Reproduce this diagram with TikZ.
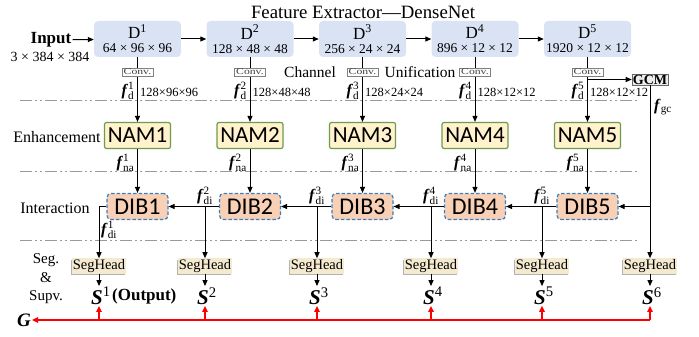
\documentclass[tikz,border=0pt]{standalone}
\usepackage{fontspec}
\usepackage{amsmath}
\setmainfont{Liberation Serif}
\newfontfamily\calib{Carlito}
\usetikzlibrary{arrows.meta,shadows,calc}
\definecolor{dblue}{HTML}{DAE3F3}
\definecolor{namfill}{HTML}{FFF2CC}
\definecolor{namgreen}{HTML}{6F9B4D}
\definecolor{dibfill}{HTML}{F8D0B6}
\definecolor{dibblue}{HTML}{3C7DC0}
\definecolor{segfill}{HTML}{F4EAD0}
\definecolor{gcmfill}{HTML}{EDEDED}
\definecolor{ddgray}{HTML}{9A9A9A}
\newcommand{\fs}[1]{\fontsize{#1}{#1}\selectfont}
\newcommand{\fv}[2]{\textbf{\textit{f}}$^{\textnormal{#1}}_{\textnormal{#2}}$}
\newcommand{\sv}[1]{\textbf{\textit{S}}$^{\textnormal{#1}}$}
\newcommand{\convtxt}{\scalebox{1.3}[1]{\fs{9}Conv.}}
\begin{document}
\begin{tikzpicture}[x=1pt,y=-1pt,
  arr/.style={line width=1pt,-{Triangle[length=6pt,width=5pt]}},
  redarr/.style={line width=1.3pt,red,-{Triangle[length=6pt,width=5.5pt]}},
  dbox/.style={fill=dblue,rounded corners=4pt,minimum width=87pt,minimum height=36pt,align=center,inner sep=1pt},
  conv/.style={draw=gray,fill=white,minimum width=31pt,minimum height=8pt,inner sep=0pt,text=black!75},
  nam/.style={draw=namgreen,line width=1.2pt,fill=namfill,rounded corners=2pt,minimum width=66pt,minimum height=26pt,inner sep=1pt,font=\calib\fs{23}},
  dib/.style={draw=dibblue,dashed,dash pattern=on 3.5pt off 2pt,line width=1.2pt,fill=dibfill,rounded corners=4pt,minimum width=61pt,minimum height=26pt,inner sep=1pt,font=\calib\fs{24}},
  seg/.style={fill=segfill,drop shadow={shadow xshift=-1pt,shadow yshift=-1.5pt,fill=black,opacity=0.3},inner sep=1pt,minimum height=14pt,minimum width=54pt,font=\fs{14.5}},
  gcm/.style={draw=black!60,fill=gcmfill,inner sep=1pt,minimum width=36pt,minimum height=11pt,font=\fs{14}\bfseries},
  lab/.style={inner sep=0pt,font=\fs{16}},
  dim/.style={inner sep=0pt,font=\fs{12.5}},
  slab/.style={inner sep=1pt,font=\fs{21}},
  dd/.style={ddgray,line width=1pt,dash pattern=on 12pt off 3pt on 2pt off 3pt on 2pt off 3pt},
  sec/.style={font=\fs{16}}]
\useasboundingbox (0,0) rectangle (699,337);

% title and input
\node[font=\fs{18.8}] (title) at (363,12) {Feature Extractor—DenseNet};
\node[font=\fs{17}\bfseries,inner sep=1pt] (in) at (51,40) {Input};
\node[font=\fs{14},inner sep=0pt] (insz) at (50,57) {3 × 384 × 384};

% dense net blocks
\node[dbox] (D1) at (137.5,39) {{\fs{17}D\textsuperscript{1}}\\[2pt]{\fs{13.5}64 × 96 × 96}};
\node[dbox] (D2) at (250,39) {{\fs{17}D\textsuperscript{2}}\\[2pt]{\fs{13.5}128 × 48 × 48}};
\node[dbox] (D3) at (362.5,39) {{\fs{17}D\textsuperscript{3}}\\[2pt]{\fs{13.5}256 × 24 × 24}};
\node[dbox] (D4) at (475,39) {{\fs{17}D\textsuperscript{4}}\\[2pt]{\fs{13.5}896 × 12 × 12}};
\node[dbox] (D5) at (587.5,39) {{\fs{17}D\textsuperscript{5}}\\[2pt]{\fs{13.5}1920 × 12 × 12}};
\draw[arr] (in) -- (D1);
\draw[arr] (D1) -- (D2);
\draw[arr] (D2) -- (D3);
\draw[arr] (D3) -- (D4);
\draw[arr] (D4) -- (D5);

% separators
\draw[dd] (20,100) -- (637,100);
\draw[dd] (20,171) -- (637,171);
\draw[dd] (20,240) -- (637,240);

% section labels
\node[sec] (secE) at (57,137) {Enhancement};
\node[sec] (secI) at (55,208) {Interaction};
\node[font=\fontsize{15}{18.5}\selectfont,align=center] (secS) at (46,279) {Seg.\\\&\\Supv.};

% NAM
\node[nam] (N1) at (137.5,135.5) {NAM1};
\node[nam] (N2) at (250,135.5) {NAM2};
\node[nam] (N3) at (362.5,135.5) {NAM3};
\node[nam] (N4) at (475,135.5) {NAM4};
\node[nam] (N5) at (587.5,135.5) {NAM5};
\draw[arr] (D1) -- (N1);
\draw[arr] (D2) -- (N2);
\draw[arr] (D3) -- (N3);
\draw[arr] (D4) -- (N4);
\draw[arr] (D5) -- (N5);

% conv
\node[conv] (C1) at (137.5,72) {\convtxt};
\node[conv] (C2) at (250,72) {\convtxt};
\node[conv] (C3) at (362.5,72) {\convtxt};
\node[conv] (C4) at (475,72) {\convtxt};
\node[conv] (C5) at (587.5,72) {\convtxt};
\node[font=\fs{15.5}] (chn) at (310,72) {Channel};
\node[font=\fs{15.5}] (uni) at (420,72) {Unification};

% GCM
\node[gcm] (GCM) at (650,79.5) {GCM};
\coordinate (g5) at (587.5,79.5);
\draw[arr] (g5) -- (GCM);

% f_d labels
\node[lab,anchor=east] (fd1) at (134.5,91) {\fv{1}{d}};
\node[lab,anchor=east] (fd2) at (247,91) {\fv{2}{d}};
\node[lab,anchor=east] (fd3) at (359.5,91) {\fv{3}{d}};
\node[lab,anchor=east] (fd4) at (472,91) {\fv{4}{d}};
\node[lab,anchor=east] (fd5) at (584.5,91) {\fv{5}{d}};
\node[dim,anchor=west] (dd1) at (140,92) {128×96×96};
\node[dim,anchor=west] (dd2) at (252.5,92) {128×48×48};
\node[dim,anchor=west] (dd3) at (365,92) {128×24×24};
\node[dim,anchor=west] (dd4) at (477.5,92) {128×12×12};
\node[dim,anchor=west] (dd5) at (590,92) {128×12×12};

% f_na labels
\node[lab,anchor=east] (fn1) at (134.5,163) {\fv{1}{na}};
\node[lab,anchor=east] (fn2) at (247,163) {\fv{2}{na}};
\node[lab,anchor=east] (fn3) at (359.5,163) {\fv{3}{na}};
\node[lab,anchor=east] (fn4) at (472,163) {\fv{4}{na}};
\node[lab,anchor=east] (fn5) at (584.5,163) {\fv{5}{na}};

% DIB
\node[dib] (B1) at (137.5,206.5) {DIB1};
\node[dib] (B2) at (250,206.5) {DIB2};
\node[dib] (B3) at (362.5,206.5) {DIB3};
\node[dib] (B4) at (475,206.5) {DIB4};
\node[dib] (B5) at (587.5,206.5) {DIB5};
\draw[arr] (N1) -- (B1);
\draw[arr] (N2) -- (B2);
\draw[arr] (N3) -- (B3);
\draw[arr] (N4) -- (B4);
\draw[arr] (N5) -- (B5);
\draw[arr] (B2) -- (B1);
\draw[arr] (B3) -- (B2);
\draw[arr] (B4) -- (B3);
\draw[arr] (B5) -- (B4);

% seg heads
\node[seg] (H1) at (99,266) {SegHead};
\node[seg] (H2) at (205,266) {SegHead};
\node[seg] (H3) at (317,266) {SegHead};
\node[seg] (H4) at (431,266) {SegHead};
\node[seg] (H5) at (542,266) {SegHead};
\node[seg] (H6) at (650,266) {SegHead};

\coordinate (j2) at (205,206.5);
\coordinate (j3) at (317,206.5);
\coordinate (j4) at (431,206.5);
\coordinate (j5) at (542,206.5);
\draw[arr] (B1.west) -| (H1.north);
\draw[arr] (j2) -- (H2);
\draw[arr] (j3) -- (H3);
\draw[arr] (j4) -- (H4);
\draw[arr] (j5) -- (H5);
\draw[arr] (GCM) -- (H6);
\draw[arr] (GCM.south |- B5.east) -- (B5.east);

% f_di and f_gc labels
\node[lab,anchor=west] (fi1) at (101,230) {\fv{1}{di}};
\node[lab] (fi2) at (205,196) {\fv{2}{di}};
\node[lab] (fi3) at (317,196) {\fv{3}{di}};
\node[lab] (fi4) at (431,196) {\fv{4}{di}};
\node[lab] (fi5) at (542,196) {\fv{5}{di}};
\node[lab,anchor=west] (fgc) at (654,107) {\textbf{\textit{f}}$_{\textnormal{gc}}$};

% outputs
\node[slab] (S1) at (101,296) {\sv{1}};
\node[font=\fs{17}\bfseries,anchor=west,inner sep=0pt] (out) at (S1.east) {(Output)};
\node[slab] (S2) at (207,296) {\sv{2}};
\node[slab] (S3) at (319,296) {\sv{3}};
\node[slab] (S4) at (433,296) {\sv{4}};
\node[slab] (S5) at (544,296) {\sv{5}};
\node[slab] (S6) at (652,296) {\sv{6}};
\draw[arr] (H1) -- (H1 |- S1.north);
\draw[arr] (H2) -- (H2 |- S2.north);
\draw[arr] (H3) -- (H3 |- S3.north);
\draw[arr] (H4) -- (H4 |- S4.north);
\draw[arr] (H5) -- (H5 |- S5.north);
\draw[arr] (H6) -- (H6 |- S6.north);

% ground truth
\node[font=\fs{19}\bfseries\itshape,inner sep=1pt] (G) at (24,320) {G};
\coordinate (r1) at (99,320);
\coordinate (r2) at (205,320);
\coordinate (r3) at (317,320);
\coordinate (r4) at (431,320);
\coordinate (r5) at (542,320);
\coordinate (r6) at (650,320);
\draw[redarr] (r6) -- (G);
\draw[redarr] (r1) -- (r1 |- S1.south);
\draw[redarr] (r2) -- (r2 |- S2.south);
\draw[redarr] (r3) -- (r3 |- S3.south);
\draw[redarr] (r4) -- (r4 |- S4.south);
\draw[redarr] (r5) -- (r5 |- S5.south);
\draw[redarr] (r6) -- (r6 |- S6.south);
\end{tikzpicture}
\end{document}
